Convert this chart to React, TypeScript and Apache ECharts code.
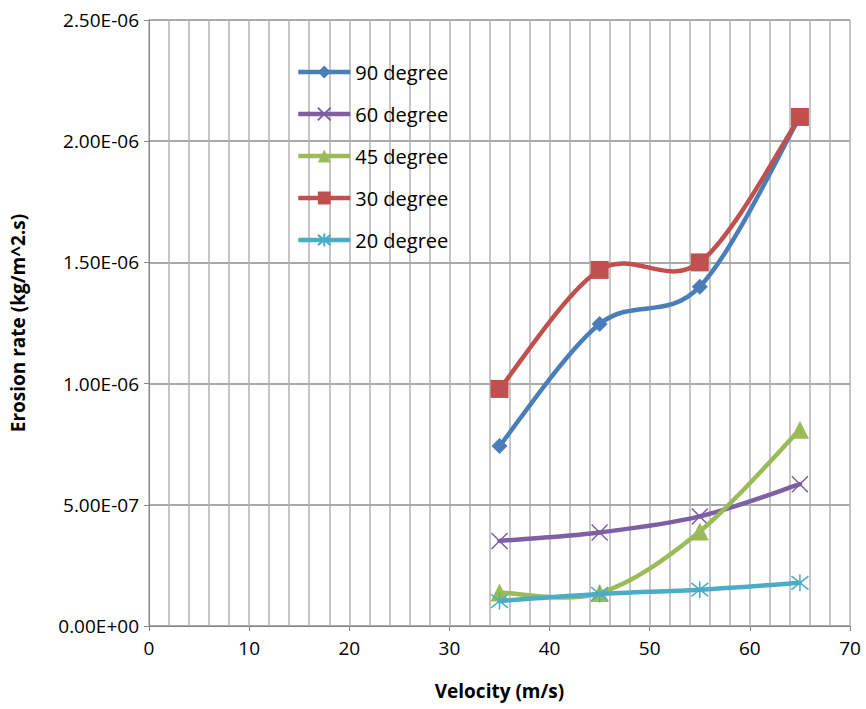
import React, { useEffect, useRef } from "react";
import * as echarts from "echarts";

const velocities = [35, 45, 55, 65];
const seriesNames = ["90 degree", "60 degree", "45 degree", "30 degree", "20 degree"];
const deg90 = [0.743e-6, 1.246e-6, 1.4e-6, 2.1e-6];
const deg60 = [0.351e-6, 0.386e-6, 0.452e-6, 0.585e-6];
const deg45 = [0.138e-6, 0.136e-6, 0.39e-6, 0.81e-6];
const deg30 = [0.978e-6, 1.469e-6, 1.5e-6, 2.1e-6];
const deg20 = [0.103e-6, 0.132e-6, 0.15e-6, 0.178e-6];
const colors = ["#4A7EBB", "#7E5FA4", "#9BBB59", "#C0504D", "#4BACC6"];

const FONT = "'Open Sans', 'Liberation Sans', sans-serif";

function sci(v: number): string {
  if (v === 0) return "0.00E+00";
  const exp = Math.floor(Math.log10(Math.abs(v)) + 1e-9);
  const mant = v / Math.pow(10, exp);
  const sign = exp < 0 ? "-" : "+";
  const e = Math.abs(exp).toString().padStart(2, "0");
  return mant.toFixed(2) + "E" + sign + e;
}

const xMark = "path://M0,0 L10,10 M10,0 L0,10";
const starMark = "path://M5,0 L5,10 M1,1 L9,9 M9,1 L1,9";

export default function App() {
  const ref = useRef<HTMLDivElement>(null);
  useEffect(() => {
    if (!ref.current) return;
    const chart = echarts.init(ref.current, undefined, { renderer: "svg" });
    const datasets = [deg90, deg60, deg45, deg30, deg20];
    const symbols = ["diamond", xMark, "triangle", "rect", starMark];
    const sizes = [16, 16, 18, 18, 17];
    const series: any[] = [];
    datasets.forEach((d, i) => {
      const pts = d.map((v, j) => [velocities[j], v]);
      // smooth curve drawn through the axis scales (Catmull-Rom style Bezier segments)
      series.push({
        name: "curve" + i,
        type: "custom",
        data: pts,
        z: 2 + i * 2,
        silent: true,
        renderItem: (params: any, api: any) => {
          const k = params.dataIndex;
          if (k >= pts.length - 1) return null;
          const p0 = api.coord(pts[Math.max(k - 1, 0)]);
          const p1 = api.coord(pts[k]);
          const p2 = api.coord(pts[k + 1]);
          const p3 = api.coord(pts[Math.min(k + 2, pts.length - 1)]);
          return {
            type: "bezierCurve",
            shape: {
              x1: p1[0],
              y1: p1[1],
              x2: p2[0],
              y2: p2[1],
              cpx1: p1[0] + (p2[0] - p0[0]) / 6,
              cpy1: p1[1] + (p2[1] - p0[1]) / 6,
              cpx2: p2[0] - (p3[0] - p1[0]) / 6,
              cpy2: p2[1] - (p3[1] - p1[1]) / 6,
            },
            style: { stroke: colors[i], lineWidth: 4.5, fill: null, lineCap: "round" },
          };
        },
      });
      const isStroke = i === 1 || i === 4;
      series.push({
        name: seriesNames[i],
        type: "line",
        data: pts,
        symbol: symbols[i],
        symbolSize: sizes[i],
        showAllSymbol: true,
        lineStyle: { width: 4, color: colors[i], opacity: 0 },
        itemStyle: isStroke
          ? { color: colors[i], borderColor: colors[i], borderWidth: 1.5 }
          : { color: colors[i], borderWidth: 0 },
        z: 3 + i * 2,
      });
    });
    chart.setOption({
      animation: false,
      color: colors,
      backgroundColor: "#ffffff",
      grid: { left: 149, right: 16, top: 20, bottom: 83, containLabel: false },
      legend: {
        orient: "vertical",
        left: 291,
        top: 57,
        itemWidth: 52,
        itemHeight: 16,
        itemGap: 22,
        data: seriesNames,
        lineStyle: { width: 4.5, opacity: 1 },
        textStyle: { fontFamily: FONT, fontSize: 20, color: "#000" },
      },
      xAxis: {
        type: "value",
        min: 0,
        max: 70,
        interval: 10,
        name: "Velocity (m/s)",
        nameLocation: "middle",
        nameGap: 55,
        nameTextStyle: { fontFamily: FONT, fontSize: 19, fontWeight: "bold", color: "#000" },
        axisLine: { show: true, lineStyle: { color: "#868686", width: 1 } },
        axisTick: { show: true, length: 5, lineStyle: { color: "#868686" } },
        axisLabel: { fontFamily: FONT, fontSize: 19, color: "#000", margin: 12 },
        splitLine: { show: true, lineStyle: { color: "#B3B3B3", width: 1.5 } },
        minorTick: { show: false, splitNumber: 5 },
        minorSplitLine: { show: true, lineStyle: { color: "#B3B3B3", width: 1.5 } },
      },
      yAxis: {
        type: "value",
        min: 0,
        max: 2.5e-6,
        interval: 0.5e-6,
        name: "Erosion rate (kg/m^2.s)",
        nameLocation: "middle",
        nameGap: 122,
        nameTextStyle: { fontFamily: FONT, fontSize: 19, fontWeight: "bold", color: "#000" },
        axisLine: { show: true, lineStyle: { color: "#868686", width: 1 } },
        axisTick: { show: true, length: 5, lineStyle: { color: "#868686" } },
        axisLabel: { fontFamily: FONT, fontSize: 19, color: "#000", margin: 10, formatter: (v: number) => sci(v) },
        splitLine: { show: true, lineStyle: { color: "#8C8C8C", width: 1.5 } },
      },
      series,
    });
    return () => chart.dispose();
  }, []);
  return <div ref={ref} style={{ width: 866, height: 709, position: "absolute", left: 0, top: 0 }} />;
}
